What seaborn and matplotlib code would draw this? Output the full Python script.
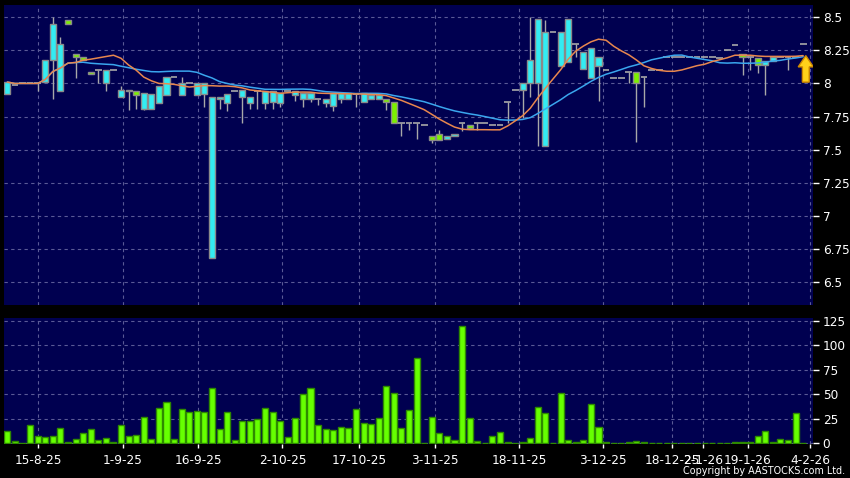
import numpy as np
import pandas as pd
import matplotlib
matplotlib.use("Agg")
import matplotlib.pyplot as plt
import seaborn as sns
from matplotlib.patches import Polygon

# ---------------- data ----------------
open_ = [7.92, 7.99, 8.00, 8.00, 8.00, 8.01, 8.18, 7.94, 8.48, 8.22,
         8.20, 8.09, 8.10, 8.00, 8.10, 7.90, 7.95, 7.94, 7.81, 7.81,
         7.85, 7.91, 8.05, 7.91, 8.00, 7.91, 7.92, 6.68, 7.88, 7.85,
         7.94, 7.90, 7.85, 7.94, 7.85, 7.86, 7.85, 7.94, 7.91, 7.88,
         7.88, 7.88, 7.85, 7.83, 7.88, 7.88, 7.92, 7.86, 7.88, 7.88,
         7.88, 7.86, 7.70, 7.70, 7.70, 7.69, 7.60, 7.62, 7.58, 7.60,
         7.70, 7.69, 7.70, 7.70, 7.69, 7.69, 7.86, 7.95, 7.95, 8.00,
         8.00, 7.53, 8.39, 8.13, 8.16, 8.30, 8.11, 8.04, 8.13, 8.10,
         8.04, 8.04, 8.09, 8.09, 8.05, 8.10, 8.10, 8.20, 8.20, 8.20,
         8.20, 8.20, 8.20, 8.20, 8.19, 8.25, 8.29, 8.22, 8.20, 8.19,
         8.14, 8.17, 8.20, 8.20, 8.20, 8.30]
high = [8.01, 7.99, 8.00, 8.00, 8.00, 8.18, 8.50, 8.35, 8.48, 8.22,
        8.20, 8.09, 8.10, 8.10, 8.10, 7.98, 7.95, 7.94, 7.93, 7.92,
        7.98, 8.05, 8.05, 8.05, 8.00, 8.00, 8.00, 7.90, 7.90, 7.92,
        7.94, 7.95, 7.90, 7.94, 7.94, 7.94, 7.93, 7.94, 7.94, 7.93,
        7.93, 7.88, 7.88, 7.93, 7.93, 7.93, 7.92, 7.93, 7.91, 7.91,
        7.88, 7.86, 7.70, 7.70, 7.70, 7.69, 7.60, 7.65, 7.60, 7.62,
        7.70, 7.69, 7.70, 7.70, 7.69, 7.69, 7.86, 7.95, 8.00, 8.50,
        8.49, 8.48, 8.39, 8.39, 8.49, 8.30, 8.24, 8.27, 8.20, 8.10,
        8.04, 8.04, 8.09, 8.09, 8.05, 8.10, 8.10, 8.20, 8.20, 8.20,
        8.20, 8.20, 8.20, 8.20, 8.19, 8.25, 8.29, 8.22, 8.20, 8.19,
        8.17, 8.20, 8.20, 8.20, 8.20, 8.30]
low = [7.92, 7.99, 8.00, 8.00, 7.94, 8.01, 7.88, 7.94, 8.45, 8.04,
       8.18, 8.07, 8.00, 7.94, 8.10, 7.90, 7.80, 7.81, 7.80, 7.81,
       7.85, 7.91, 8.05, 7.91, 8.00, 7.91, 7.82, 6.68, 7.81, 7.79,
       7.94, 7.70, 7.81, 7.81, 7.81, 7.81, 7.82, 7.94, 7.87, 7.82,
       7.86, 7.84, 7.82, 7.79, 7.85, 7.88, 7.82, 7.86, 7.88, 7.88,
       7.80, 7.70, 7.60, 7.65, 7.58, 7.69, 7.55, 7.57, 7.58, 7.60,
       7.64, 7.66, 7.65, 7.70, 7.69, 7.69, 7.70, 7.95, 7.74, 7.90,
       7.53, 7.53, 8.39, 8.13, 8.16, 8.20, 8.11, 8.04, 7.87, 8.10,
       8.04, 8.04, 8.00, 7.56, 7.82, 8.10, 8.10, 8.20, 8.20, 8.20,
       8.20, 8.20, 8.20, 8.20, 8.19, 8.25, 8.29, 8.06, 8.10, 8.08,
       7.91, 8.17, 8.20, 8.10, 8.20, 8.30]
close = [8.01, 7.99, 8.00, 8.00, 8.00, 8.18, 8.45, 8.30, 8.45, 8.20,
         8.18, 8.07, 8.10, 8.10, 8.10, 7.95, 7.94, 7.91, 7.93, 7.92,
         7.98, 8.05, 8.05, 8.00, 8.00, 8.00, 8.00, 7.90, 7.90, 7.92,
         7.94, 7.95, 7.90, 7.94, 7.94, 7.94, 7.93, 7.94, 7.94, 7.93,
         7.93, 7.88, 7.88, 7.93, 7.93, 7.93, 7.92, 7.93, 7.91, 7.91,
         7.86, 7.70, 7.70, 7.70, 7.70, 7.69, 7.57, 7.57, 7.60, 7.62,
         7.70, 7.66, 7.70, 7.70, 7.69, 7.69, 7.86, 7.95, 8.00, 8.18,
         8.49, 8.39, 8.39, 8.39, 8.49, 8.30, 8.24, 8.27, 8.20, 8.10,
         8.04, 8.04, 8.09, 8.00, 8.05, 8.10, 8.10, 8.20, 8.20, 8.20,
         8.20, 8.20, 8.20, 8.20, 8.19, 8.25, 8.29, 8.20, 8.20, 8.14,
         8.17, 8.20, 8.20, 8.20, 8.20, 8.30]
volume = [12, 2, 0.3, 19, 7, 6.5, 7.5, 16, 1.7, 4.4,
          10, 14.6, 3.7, 5.4, 1.7, 18.7, 7.5, 8.8, 26.5, 4,
          36, 41.8, 4.8, 35.3, 32.3, 33, 31.6, 56.7, 15, 32.3,
          3.7, 23, 23, 24.8, 36.3, 32.3, 22.4, 6.8, 25.8, 50,
          56, 18.7, 14.6, 13.2, 16.6, 15.3, 35, 20.7, 20, 25.8,
          58.8, 51.3, 15.6, 34.3, 86.6, 0.7, 26.8, 10.2, 7.5, 3.7,
          120, 25.5, 2.4, 0.7, 7.8, 11.2, 1, 0.7, 1.4, 5.8,
          36.7, 30.6, 0, 51, 3.4, 1.7, 3, 40.4, 17, 1.4,
          0.7, 0, 1, 2, 1, 0, 0, 0, 0, 0,
          0, 0, 0, 0, 0, 0.7, 1, 1, 1, 7.5,
          12.2, 1.7, 4.8, 3.4, 31.3, 0]
tick_labels = ["15-8-25", "1-9-25", "16-9-25", "2-10-25", "17-10-25", "3-11-25",
               "18-11-25", "3-12-25", "18-12-25", "2-1-26", "19-1-26", "4-2-26"]
tick_pos = [4.1, 15.2, 25.2, 36.3, 46.4, 56.4, 67.5, 78.6, 87.7, 91.8, 97.7, 105.9]
price_ticks = [6.5, 6.75, 7.0, 7.25, 7.5, 7.75, 8.0, 8.25, 8.5]
volume_ticks = [0, 25, 50, 75, 100, 125]

# ---------------- style ----------------
sns.set_theme(style="dark")
plt.rcParams['font.family'] = ['DejaVu Sans']

BG = '#000000'
PANEL = '#000050'
GRID = '#5a5a96'
UP = '#33ecf2'
DOWN = '#7cf000'
EDGE = '#8a8a8a'
WICK = '#a8a8a8'
VOLC = '#66ff00'
VOLE = '#2e8a00'

df = pd.DataFrame({'open': open_, 'high': high, 'low': low,
                   'close': close, 'volume': volume})
df['i'] = np.arange(len(df))
df['ma10'] = df['close'].rolling(10, min_periods=1).mean()
df['ma20'] = df['close'].rolling(20, min_periods=1).mean()

fig = plt.figure(figsize=(8.5, 4.78), dpi=100, facecolor=BG)
ax1 = fig.add_axes([4 / 850, 1 - 305 / 478, 809 / 850, 300 / 478])
ax2 = fig.add_axes([4 / 850, 1 - 444 / 478, 809 / 850, 126 / 478])

for ax in (ax1, ax2):
    ax.set_facecolor(PANEL)
    for s in ax.spines.values():
        s.set_visible(False)
    ax.grid(True, color=GRID, linestyle=(0, (3, 3)), linewidth=0.8)
    ax.set_axisbelow(True)

# ---------------- candles ----------------
x = df['i'].to_numpy()
o = df['open'].to_numpy()
c = df['close'].to_numpy()
h = df['high'].to_numpy()
l = df['low'].to_numpy()
ax1.vlines(x, l, h, color=WICK, linewidth=1, zorder=2)
body = np.abs(c - o)
is_body = body > 1e-9
cols = np.where(c > o, UP, DOWN)
ax1.bar(x[is_body], body[is_body], bottom=np.minimum(o, c)[is_body], width=0.8,
        color=cols[is_body], edgecolor=EDGE, linewidth=1, zorder=3)
ax1.hlines(c[~is_body], x[~is_body] - 0.45, x[~is_body] + 0.45,
           color=WICK, linewidth=1.2, zorder=3)

sns.lineplot(data=df, x='i', y='ma20', ax=ax1, color='#3aa6ee', linewidth=1.1, zorder=4)
sns.lineplot(data=df, x='i', y='ma10', ax=ax1, color='#e8874e', linewidth=1.1, zorder=5)

# last price arrow
xa = x[-1] + 0.35
tip = df['ma10'].iloc[-1]
arrow = Polygon([[xa, tip], [xa + 1.0, tip - 0.085], [xa + 0.45, tip - 0.085],
                 [xa + 0.45, 8.01], [xa - 0.45, 8.01], [xa - 0.45, tip - 0.085],
                 [xa - 1.0, tip - 0.085]], closed=True, facecolor='#ffd21a',
                edgecolor='#d08a00', linewidth=1, zorder=6)
ax1.add_patch(arrow)

xmin, xmax = -0.44, 106.3
ax1.set_xlim(xmin, xmax)
ax1.set_ylim(6.328, 8.592)
ax1.set_xticks(tick_pos)
ax1.set_xticklabels([])
ax1.tick_params(axis='x', length=0)
ax1.set_yticks(price_ticks)
ax1.set_yticklabels([f"{v:g}" for v in price_ticks])
ax1.yaxis.tick_right()
ax1.tick_params(axis='y', colors='white', length=4, width=1, labelsize=8.7,
                pad=3, right=True, left=False)
ax1.set_xlabel('')
ax1.set_ylabel('')

# ---------------- volume ----------------
sns.barplot(data=df, x='i', y='volume', native_scale=True, ax=ax2, color=VOLC,
            saturation=1, edgecolor=VOLE, linewidth=1, width=0.8, errorbar=None,
            zorder=3)
ax2.set_xlim(xmin, xmax)
ax2.set_ylim(-0.8, 127.8)
ax2.set_yticks(volume_ticks)
ax2.set_yticklabels([str(v) for v in volume_ticks])
ax2.yaxis.tick_right()
ax2.tick_params(axis='y', colors='white', length=4, width=1, labelsize=8.7,
                pad=3, right=True, left=False)
ax2.set_xticks(tick_pos)
ax2.set_xticklabels(tick_labels)
ax2.tick_params(axis='x', colors='white', length=3, width=1, labelsize=8.7,
                pad=4, bottom=True)
ax2.set_xlabel('')
ax2.set_ylabel('')

fig.text(845 / 850, 1 - 471 / 478, "Copyright by AASTOCKS.com Ltd.", color='white',
         fontsize=6.9, ha='right', va='center')

fig.savefig('out.png', dpi=100, facecolor=BG)
